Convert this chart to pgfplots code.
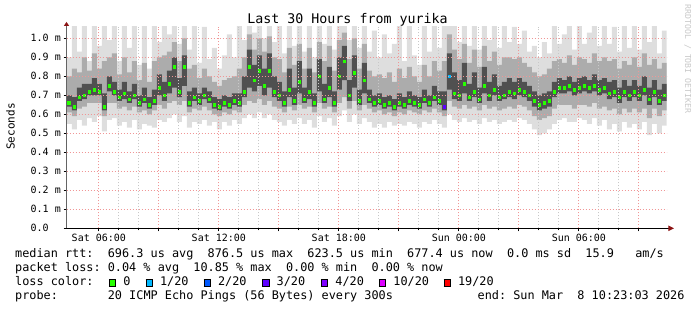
\documentclass[border=0pt]{standalone}
\usepackage{pgfplots}
\pgfplotsset{compat=1.18}
\usepackage{pgfplotstable}
\usepgfplotslibrary{fillbetween}
\usetikzlibrary{arrows.meta}
\usepackage{fontspec}
\setmainfont{DejaVu Sans Mono}

\definecolor{smokeA}{RGB}{222,222,222}
\definecolor{smokeB}{RGB}{172,172,172}
\definecolor{smokeC}{RGB}{80,80,80}
\definecolor{gridred}{RGB}{240,150,150}
\definecolor{gridgrey}{RGB}{200,200,200}
\definecolor{arrowred}{RGB}{140,20,20}
\definecolor{axisgrey}{RGB}{100,100,100}
\definecolor{wmgrey}{RGB}{200,200,200}
\definecolor{lc0}{HTML}{26FF00}
\definecolor{lc1}{HTML}{00B8FF}
\definecolor{lc2}{HTML}{0059FF}
\definecolor{lc3}{HTML}{5E00FF}
\definecolor{lc4}{HTML}{7E00FF}
\definecolor{lc10}{HTML}{DD00FF}
\definecolor{lc19}{HTML}{FF0000}

\newcommand\lsq[1]{{\setlength\fboxsep{0pt}\setlength\fboxrule{1pt}\fcolorbox{black}{#1}{\rule{0pt}{5.5pt}\rule{5.5pt}{0pt}}}}

\pgfplotstableread{
x mn p10 p25 med p75 p90 mx
4.38 0.55 0.61 0.64 0.66 0.70 0.80 0.90
4.65 0.52 0.59 0.62 0.64 0.69 0.84 1.10
4.90 0.57 0.63 0.67 0.69 0.74 0.82 0.93
5.15 0.54 0.64 0.68 0.70 0.76 0.90 1.10
5.40 0.58 0.66 0.70 0.72 0.76 0.83 0.88
5.65 0.56 0.66 0.70 0.73 0.79 0.92 1.10
5.90 0.59 0.66 0.70 0.72 0.76 0.84 0.96
6.15 0.51 0.59 0.62 0.64 0.71 0.88 1.10
6.40 0.57 0.66 0.72 0.75 0.80 0.90 0.99
6.65 0.58 0.66 0.70 0.72 0.77 0.92 1.10
6.90 0.54 0.63 0.67 0.69 0.73 0.81 0.88
7.15 0.56 0.64 0.68 0.71 0.77 0.90 1.10
7.40 0.53 0.62 0.66 0.68 0.72 0.82 0.95
7.65 0.57 0.64 0.68 0.70 0.76 0.88 1.10
7.90 0.52 0.61 0.64 0.66 0.70 0.78 0.86
8.15 0.55 0.62 0.66 0.68 0.74 0.87 1.10
8.40 0.54 0.60 0.63 0.65 0.69 0.77 0.84
8.65 0.53 0.62 0.65 0.67 0.73 0.88 1.10
8.90 0.57 0.65 0.70 0.74 0.81 0.90 0.98
9.15 0.56 0.63 0.67 0.70 0.77 0.91 1.10
9.40 0.58 0.66 0.71 0.76 0.83 0.93 1.02
9.65 0.60 0.67 0.74 0.85 0.90 0.98 1.10
9.90 0.56 0.65 0.69 0.72 0.79 0.88 0.97
10.15 0.59 0.67 0.75 0.85 0.91 1.00 1.10
10.40 0.53 0.61 0.64 0.66 0.72 0.84 0.94
10.65 0.56 0.63 0.67 0.69 0.74 0.86 1.10
10.90 0.55 0.62 0.65 0.67 0.71 0.79 0.87
11.15 0.57 0.64 0.68 0.70 0.74 0.84 1.06
11.40 0.54 0.62 0.66 0.68 0.72 0.80 0.89
11.65 0.56 0.60 0.63 0.65 0.69 0.77 0.95
11.90 0.52 0.59 0.62 0.64 0.68 0.75 0.84
12.15 0.56 0.61 0.64 0.66 0.70 0.78 0.91
12.40 0.54 0.60 0.63 0.65 0.69 0.79 1.02
12.65 0.57 0.62 0.65 0.67 0.71 0.80 0.90
12.90 0.55 0.61 0.64 0.66 0.71 0.84 1.10
13.15 0.58 0.65 0.69 0.72 0.80 0.90 0.99
13.40 0.60 0.67 0.74 0.85 0.94 1.02 1.10
13.65 0.58 0.66 0.72 0.78 0.86 0.94 1.03
13.90 0.61 0.68 0.75 0.83 0.91 1.00 1.10
14.15 0.58 0.65 0.70 0.75 0.84 0.93 1.00
14.40 0.60 0.67 0.74 0.83 0.92 1.01 1.10
14.65 0.57 0.64 0.69 0.72 0.80 0.90 0.98
14.90 0.56 0.63 0.67 0.70 0.77 0.89 1.10
15.15 0.54 0.61 0.64 0.66 0.72 0.82 0.92
15.40 0.57 0.64 0.69 0.73 0.84 0.95 1.10
15.65 0.55 0.62 0.65 0.67 0.74 0.86 0.96
15.90 0.58 0.65 0.71 0.77 0.88 0.97 1.10
16.15 0.55 0.63 0.66 0.68 0.74 0.84 0.93
16.40 0.57 0.64 0.68 0.72 0.84 0.95 1.10
16.65 0.53 0.61 0.64 0.66 0.71 0.82 0.90
16.90 0.59 0.66 0.72 0.80 0.89 0.98 1.10
17.15 0.56 0.63 0.66 0.68 0.76 0.88 0.97
17.40 0.58 0.64 0.69 0.74 0.85 0.96 1.10
17.65 0.54 0.61 0.64 0.66 0.72 0.83 0.94
17.90 0.59 0.66 0.73 0.80 0.90 0.99 1.10
18.15 0.62 0.69 0.78 0.88 0.96 1.03 1.10
18.40 0.56 0.63 0.67 0.70 0.78 0.89 0.99
18.65 0.60 0.67 0.74 0.82 0.91 1.00 1.10
18.90 0.55 0.62 0.65 0.67 0.73 0.84 0.95
19.15 0.58 0.65 0.71 0.78 0.87 0.97 1.10
19.40 0.56 0.63 0.66 0.68 0.73 0.83 0.93
19.65 0.53 0.61 0.64 0.66 0.70 0.80 1.04
19.90 0.55 0.62 0.65 0.67 0.71 0.81 0.90
20.15 0.53 0.60 0.63 0.65 0.69 0.79 1.02
20.40 0.56 0.61 0.64 0.66 0.70 0.82 0.92
20.65 0.54 0.59 0.62 0.64 0.68 0.77 0.97
20.90 0.55 0.61 0.64 0.66 0.71 0.84 1.08
21.15 0.54 0.60 0.63 0.65 0.69 0.79 0.88
21.40 0.56 0.62 0.65 0.67 0.72 0.85 1.10
21.65 0.55 0.61 0.64 0.66 0.70 0.80 0.91
21.90 0.53 0.60 0.63 0.65 0.69 0.77 0.86
22.15 0.56 0.62 0.66 0.68 0.73 0.86 1.10
22.40 0.55 0.61 0.64 0.66 0.70 0.80 0.93
22.65 0.57 0.63 0.67 0.69 0.75 0.88 1.10
22.90 0.55 0.61 0.65 0.67 0.72 0.83 0.95
23.15 0.53 0.59 0.62 0.64 0.72 0.88 1.10
23.40 0.60 0.67 0.73 0.80 0.92 1.02 1.10
23.65 0.57 0.64 0.68 0.71 0.82 0.94 1.10
23.90 0.56 0.63 0.67 0.70 0.78 0.89 0.98
24.15 0.58 0.65 0.71 0.76 0.87 0.97 1.10
24.40 0.56 0.63 0.67 0.69 0.76 0.87 0.96
24.65 0.57 0.64 0.69 0.72 0.82 0.94 1.10
24.90 0.55 0.62 0.66 0.68 0.74 0.85 0.94
25.15 0.58 0.65 0.71 0.75 0.85 0.96 1.10
25.40 0.56 0.63 0.67 0.70 0.77 0.88 0.99
25.65 0.57 0.64 0.70 0.73 0.81 0.93 1.10
25.90 0.55 0.62 0.67 0.69 0.75 0.86 0.95
26.15 0.56 0.63 0.68 0.70 0.77 0.90 1.10
26.40 0.57 0.64 0.69 0.72 0.79 0.90 0.98
26.65 0.56 0.63 0.68 0.71 0.77 0.89 1.06
26.90 0.58 0.65 0.70 0.73 0.79 0.90 0.97
27.15 0.57 0.64 0.69 0.72 0.77 0.87 1.04
27.40 0.55 0.62 0.67 0.70 0.75 0.85 0.93
27.65 0.52 0.59 0.64 0.67 0.72 0.82 0.96
27.90 0.49 0.57 0.62 0.65 0.70 0.80 0.90
28.15 0.50 0.58 0.63 0.66 0.71 0.81 0.98
28.40 0.52 0.59 0.64 0.67 0.72 0.84 0.92
28.65 0.55 0.63 0.69 0.72 0.77 0.88 1.10
28.90 0.57 0.65 0.71 0.74 0.79 0.89 0.97
29.15 0.58 0.65 0.71 0.74 0.78 0.87 1.02
29.40 0.56 0.65 0.72 0.75 0.80 0.91 1.10
29.65 0.56 0.63 0.70 0.73 0.77 0.86 0.94
29.90 0.58 0.65 0.71 0.74 0.79 0.90 1.08
30.15 0.57 0.65 0.72 0.75 0.80 0.89 0.97
30.40 0.55 0.64 0.71 0.74 0.78 0.87 1.03
30.65 0.58 0.66 0.72 0.75 0.81 0.92 1.10
30.90 0.54 0.63 0.70 0.73 0.78 0.88 0.96
31.15 0.57 0.64 0.71 0.74 0.79 0.90 1.10
31.40 0.52 0.62 0.68 0.71 0.77 0.88 0.97
31.65 0.55 0.63 0.69 0.72 0.78 0.89 1.06
31.90 0.51 0.60 0.66 0.69 0.74 0.84 0.93
32.15 0.56 0.63 0.69 0.72 0.78 0.88 1.10
32.40 0.53 0.61 0.67 0.70 0.75 0.86 0.95
32.65 0.55 0.63 0.69 0.72 0.78 0.90 1.08
32.90 0.52 0.61 0.67 0.70 0.75 0.85 0.94
33.15 0.56 0.63 0.70 0.73 0.80 0.92 1.10
33.40 0.49 0.58 0.65 0.68 0.74 0.86 0.98
33.65 0.55 0.63 0.69 0.72 0.78 0.89 1.10
33.90 0.50 0.59 0.65 0.67 0.73 0.84 0.92
34.15 0.54 0.62 0.67 0.70 0.76 0.87 1.04
34.39 0.54 0.62 0.67 0.70 0.76 0.87 1.04
}\smoke

\begin{document}
\frenchspacing
\begin{tikzpicture}
\path (0pt,0pt) rectangle (697pt,310pt);
\begin{axis}[
  at={(66.5pt,81.7pt)}, anchor=south west,
  scale only axis, width=600pt, height=201.4pt,
  xmin=4.383, xmax=34.383, ymin=0, ymax=1.06,
  axis lines=left,
  axis on top,
  fill between/on layer=main,
  x axis line style={draw=black, line width=1pt, -{Triangle[length=5.7pt,width=5.4pt,color=arrowred,fill=arrowred]}, shorten >=-7.5pt},
  y axis line style={draw=axisgrey, line width=1pt, -{Triangle[length=4pt,width=5pt,color=arrowred,fill=arrowred]}, shorten >=-5pt},
  xtick={6,9,12,15,18,21,24,27,30,33},
  xticklabels={Sat 06:00,,Sat 12:00,,Sat 18:00,,Sun 00:00,,Sun 06:00,},
  minor x tick num=2,
  ytick={0,0.1,0.2,0.3,0.4,0.5,0.6,0.7,0.8,0.9,1.0},
  yticklabels={0.0\hphantom{~m},0.1 m,0.2 m,0.3 m,0.4 m,0.5 m,0.6 m,0.7 m,0.8 m,0.9 m,1.0 m},
  xmajorgrids, xminorgrids, ymajorgrids,
  major grid style={gridred, dash pattern=on 1pt off 2pt, line width=1pt},
  minor grid style={gridgrey, dash pattern=on 1pt off 2pt, line width=1pt},
  tick align=outside,
  major tick length=3pt, minor tick length=2pt,
  tick style={black, line width=0.8pt},
  ticklabel style={font=\fontsize{10}{12}\selectfont, inner sep=0pt},
  xticklabel style={anchor=base, yshift=-10.7pt},
  yticklabel style={anchor=east, xshift=-2.5pt},
]
\addplot[draw=none, name path=mn, const plot, forget plot] table[x=x,y=mn]{\smoke};
\addplot[draw=none, name path=pa, const plot, forget plot] table[x=x,y=p10]{\smoke};
\addplot[draw=none, name path=pb, const plot, forget plot] table[x=x,y=p25]{\smoke};
\addplot[draw=none, name path=pc, const plot, forget plot] table[x=x,y=p75]{\smoke};
\addplot[draw=none, name path=pd, const plot, forget plot] table[x=x,y=p90]{\smoke};
\addplot[draw=none, name path=mx, const plot, forget plot] table[x=x,y=mx]{\smoke};
\addplot[fill=smokeA, draw=none] fill between[of=mn and mx];
\addplot[fill=smokeB, draw=none] fill between[of=pa and pd];
\addplot[fill=smokeC, draw=none] fill between[of=pb and pc];
\addplot[only marks, mark=square*, mark size=1.3pt, color=lc0, skip coords between index={120}{121}] table[x expr=\thisrow{x}+0.125, y=med]{\smoke};
\addplot[only marks, mark=square*, mark size=1.3pt, color=lc3] coordinates {(23.275,0.64)};
\addplot[only marks, mark=square*, mark size=1.3pt, color=lc1] coordinates {(23.525,0.80)};
\end{axis}

\node[anchor=base, inner sep=0pt, font=\fontsize{13.3}{16}\selectfont] at (347.5pt,286pt) {Last 30 Hours from yurika};
\node[anchor=base, rotate=90, inner sep=0pt, font=\fontsize{11}{13}\selectfont] at (14.5pt,183.5pt) {Seconds};
\node[anchor=base, rotate=-90, inner sep=0pt, text=wmgrey, font=\fontsize{8.2}{10}\selectfont] at (685pt,251pt) {RRDTOOL / TOBI OETIKER};

\begin{scope}[every node/.style={anchor=base west, inner sep=0pt, font=\fontsize{11.84}{14}\selectfont}]
\node at (15pt,52.3pt) {median rtt:~~696.3 us avg~~876.5 us max~~623.5 us min~~677.4 us now~~0.0 ms sd~~15.9~~~am/s};
\node at (15pt,38.3pt) {packet loss: 0.04 \% avg~~10.85 \% max~~0.00 \% min~~0.00 \% now};
\node at (15pt,24.3pt) {loss color:};
\node at (108.7pt,24.3pt) {\lsq{lc0}};
\node at (123.2pt,24.3pt) {0};
\node at (145.3pt,24.3pt) {\lsq{lc1}};
\node at (159.8pt,24.3pt) {1/20};
\node at (203.3pt,24.3pt) {\lsq{lc2}};
\node at (217.8pt,24.3pt) {2/20};
\node at (262pt,24.3pt) {\lsq{lc3}};
\node at (276.5pt,24.3pt) {3/20};
\node at (320.7pt,24.3pt) {\lsq{lc4}};
\node at (335.2pt,24.3pt) {4/20};
\node at (378.7pt,24.3pt) {\lsq{lc10}};
\node at (393.2pt,24.3pt) {10/20};
\node at (443.3pt,24.3pt) {\lsq{lc19}};
\node at (457.8pt,24.3pt) {19/20};
\node at (15pt,10.7pt) {probe:~~~~~~~20 ICMP Echo Pings (56 Bytes) every 300s};
\node at (477.5pt,10.7pt) {end: Sun Mar~~8 10:23:03 2026};
\end{scope}
\end{tikzpicture}
\end{document}
